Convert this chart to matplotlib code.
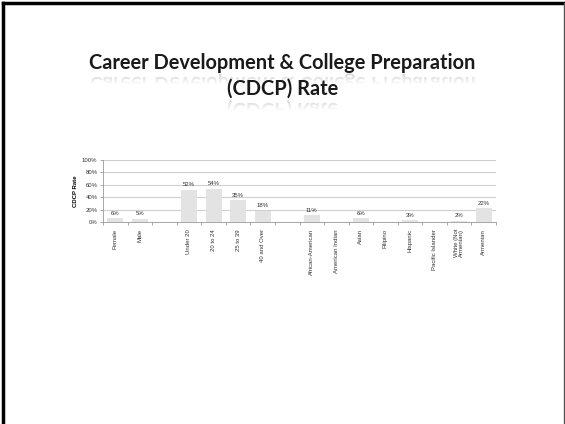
import matplotlib
matplotlib.use("Agg")
import matplotlib.pyplot as plt
import matplotlib.transforms as mtransforms
from matplotlib.textpath import TextPath
from matplotlib.font_manager import FontProperties
from matplotlib.patches import PathPatch
from matplotlib.lines import Line2D
import numpy as np

# Data (None = empty slot / no bar)
categories = ["Female", "Male", "", "Under 20", "20 to 24", "25 to 39", "40 and Over", "",
              "African-American", "American Indian", "Asian", "Filipino", "Hispanic",
              "Pacific Islander", "White (Not\nArmenian)", "Armenian"]
rates = [6, 5, None, 52, 54, 35, 18, None, 11, None, 6, None, 3, None, 2, 22]
yticks = [0, 20, 40, 60, 80, 100]
title_lines = ["Career Development & College Preparation", "(CDCP) Rate"]

W, H = 565, 424
fig = plt.figure(figsize=(W / 100, H / 100), dpi=100)

# slide frame
fig.add_artist(Line2D([3 / W, 3 / W], [0, 1 - 3 / H], color="black", lw=2.5, transform=fig.transFigure))
fig.add_artist(Line2D([3 / W, 1], [1 - 3 / H, 1 - 3 / H], color="black", lw=2.5, transform=fig.transFigure))
fig.add_artist(Line2D([1 - 1.5 / W, 1 - 1.5 / W], [0, 1 - 3 / H], color="#555555", lw=1, transform=fig.transFigure))

# title with faded reflection underneath
fp = FontProperties(family="Lato", weight="bold", size=14.4)
k = 100 / 72
for line, ybase in zip(title_lines, [69, 95]):
    fig.text(0.5, 1 - ybase / H, line, ha="center", va="baseline",
             fontproperties=fp, color="#1a1a1a")
    tp = TextPath((0, 0), line, prop=fp)
    ext = tp.get_extents()
    x0 = W / 2 - (ext.x0 + ext.width / 2) * k
    axis_y = H - ybase - 4
    tr = mtransforms.Affine2D().scale(k, -k).translate(x0, axis_y - 4)
    mpath = tr.transform_path(tp)
    nstrip = 11
    for i in range(nstrip):
        patch = PathPatch(mpath, facecolor="#8a8a8a", edgecolor="none",
                          alpha=0.38 * (1 - i / nstrip),
                          transform=mtransforms.IdentityTransform())
        clip = mtransforms.Bbox.from_extents(0, axis_y - i - 1, W, axis_y - i)
        patch.set_clip_box(mtransforms.TransformedBbox(clip, mtransforms.IdentityTransform()))
        fig.add_artist(patch)

ax = fig.add_axes([103 / W, 1 - 222 / H, 393 / W, 62 / H])
x = np.arange(len(categories))
vals = [np.nan if v is None else v for v in rates]
ax.bar(x, vals, width=0.65, color="#e3e3e3", zorder=2)
for xi, v in zip(x, rates):
    if v is not None:
        ax.text(xi, v + 4, f"{v}%", ha="center", va="bottom", fontsize=4.3,
                family="Liberation Sans", color="#333333")

ax.set_xlim(-0.5, len(categories) - 0.5)
ax.set_ylim(0, 100)
ax.set_yticks(yticks)
ax.set_yticklabels([f"{t}%" for t in yticks], fontsize=4.3, family="Liberation Sans", color="#333333")
ax.yaxis.grid(True, color="#cfcfcf", lw=0.8, zorder=0)
ax.set_xticks(x)
ax.set_xticklabels(categories, rotation=90, fontsize=4.3, family="Liberation Sans",
                   color="#333333", va="top", linespacing=1.0)
ax.set_xticks(np.arange(len(categories) + 1) - 0.5, minor=True)
ax.tick_params(axis="x", which="major", length=0, pad=5)
ax.tick_params(axis="x", which="minor", length=2, color="#999999", width=0.6)
ax.tick_params(axis="y", length=2, color="#999999", width=0.6, pad=2)
for s in ["top", "right"]:
    ax.spines[s].set_visible(False)
for s in ["left", "bottom"]:
    ax.spines[s].set_color("#999999")
    ax.spines[s].set_linewidth(0.6)
ax.set_ylabel("CDCP Rate", fontsize=4.3, fontweight="bold", family="Liberation Sans", labelpad=3)

fig.savefig("out.png", dpi=100)
